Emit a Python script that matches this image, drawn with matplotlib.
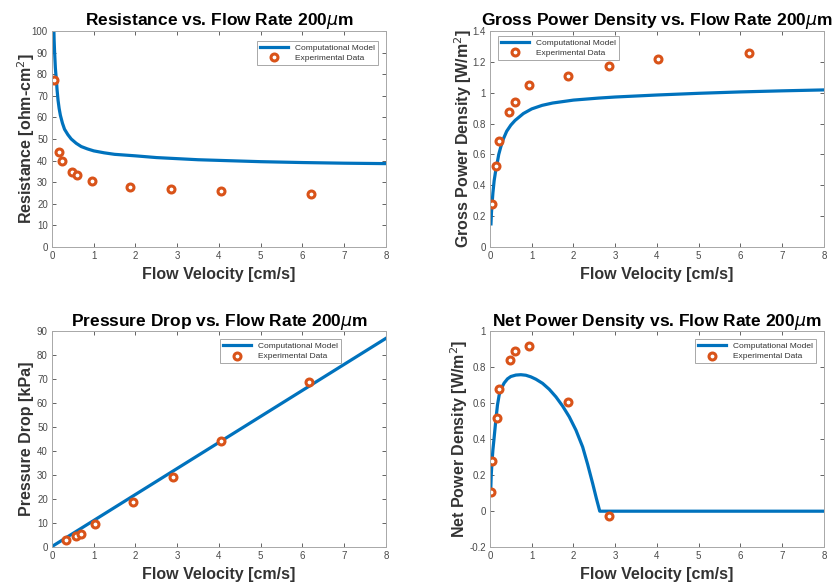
import matplotlib
matplotlib.use('Agg')
import matplotlib.pyplot as plt
from matplotlib.ticker import FormatStrFormatter

plt.rcParams['font.family'] = ['Liberation Sans', 'DejaVu Sans']
plt.rcParams['mathtext.fontset'] = 'dejavusans'

# Resistance vs flow velocity
res_model_x = [0.045, 0.05, 0.06, 0.07, 0.08, 0.09, 0.104, 0.12, 0.144, 0.17, 0.2, 0.25, 0.3, 0.38, 0.46,
               0.58, 0.7, 0.85, 1.0, 1.25, 1.5, 2.0, 2.5, 3.0, 3.5, 4.0, 5.0, 6.0, 7.0, 8.0]
res_model_y = [100, 96, 91, 87, 83, 80.5, 77.5, 73, 68, 64.2, 61, 57.3, 54.5, 52, 50,
               48, 46.5, 45.4, 44.5, 43.6, 42.9, 42.2, 41.4, 40.9, 40.4, 40.1, 39.5, 39.1, 38.8, 38.6]
res_exp_x = [0.056, 0.16, 0.23, 0.48, 0.6, 0.95, 1.87, 2.85, 4.05, 6.2]
res_exp_y = [77.3, 44, 39.9, 34.6, 33.2, 30.4, 27.8, 26.8, 25.8, 24.5]

# Gross power density
gross_model_x = [0.024, 0.035, 0.048, 0.07, 0.1, 0.14, 0.17, 0.21, 0.26, 0.32, 0.4, 0.5, 0.6, 0.8,
                 1.0, 1.25, 1.5, 2.0, 2.6, 3.0, 4.0, 5.0, 6.0, 7.0, 8.0]
gross_model_y = [0.15, 0.22, 0.27, 0.35, 0.43, 0.5, 0.54, 0.6, 0.65, 0.7, 0.75, 0.79, 0.82, 0.865,
                 0.895, 0.918, 0.933, 0.952, 0.965, 0.972, 0.985, 0.996, 1.005, 1.012, 1.018]
gross_exp_x = [0.04, 0.14, 0.21, 0.46, 0.59, 0.94, 1.88, 2.84, 4.03, 6.2]
gross_exp_y = [0.282, 0.523, 0.688, 0.873, 0.942, 1.047, 1.11, 1.17, 1.22, 1.26]

# Pressure drop
dp_model_x = [0.0, 8.0]
dp_model_y = [0.3, 87.0]
dp_exp_x = [0.34, 0.57, 0.69, 1.03, 1.93, 2.9, 4.06, 6.15]
dp_exp_y = [2.8, 4.7, 5.7, 9.6, 18.9, 29.3, 44.3, 69.0]

# Net power density
net_model_x = [0.016, 0.03, 0.048, 0.07, 0.096, 0.144, 0.18, 0.22, 0.28, 0.34, 0.42, 0.5, 0.62, 0.74,
               0.86, 0.98, 1.1, 1.26, 1.42, 1.58, 1.74, 1.9, 2.06, 2.22, 2.34, 2.46, 2.55, 2.63, 8.0]
net_model_y = [0.1, 0.2, 0.27, 0.34, 0.4, 0.515, 0.59, 0.645, 0.685, 0.712, 0.735, 0.748, 0.756, 0.758,
               0.755, 0.746, 0.733, 0.71, 0.677, 0.635, 0.584, 0.524, 0.45, 0.357, 0.26, 0.154, 0.07, 0.0, 0.0]
net_exp_x = [0.016, 0.056, 0.16, 0.22, 0.47, 0.59, 0.94, 1.86, 2.86]
net_exp_y = [0.108, 0.277, 0.517, 0.68, 0.842, 0.888, 0.916, 0.606, -0.028]

blue = '#0072BD'
orange = '#D95319'
grey = '#4a4a4a'

fig = plt.figure(figsize=(8.39, 5.84), dpi=100)
positions = [[0.062, 0.577, 0.398, 0.370],
             [0.584, 0.577, 0.398, 0.370],
             [0.062, 0.063, 0.398, 0.370],
             [0.584, 0.063, 0.398, 0.370]]

panels = [
    (res_model_x, res_model_y, res_exp_x, res_exp_y,
     r'Resistance vs. Flow Rate 200$\mu$m', r'Resistance [ohm-cm$^2$]',
     (0, 100), range(0, 101, 10), 'upper right', (0.976, 0.954), -0.045),
    (gross_model_x, gross_model_y, gross_exp_x, gross_exp_y,
     r'Gross Power Density vs. Flow Rate 200$\mu$m', r'Gross Power Density [W/m$^2$]',
     (0, 1.4), [0, 0.2, 0.4, 0.6, 0.8, 1, 1.2, 1.4], 'upper left', (0.024, 0.977), -0.048),
    (dp_model_x, dp_model_y, dp_exp_x, dp_exp_y,
     r'Pressure Drop vs. Flow Rate 200$\mu$m', 'Pressure Drop [kPa]',
     (0, 90), range(0, 91, 10), 'upper left', (0.503, 0.962), -0.054),
    (net_model_x, net_model_y, net_exp_x, net_exp_y,
     r'Net Power Density vs. Flow Rate 200$\mu$m', r'Net Power Density [W/m$^2$]',
     (-0.2, 1), [-0.2, 0, 0.2, 0.4, 0.6, 0.8, 1], 'upper right', (0.976, 0.962), -0.06),
]

for pos, (mx, my, ex, ey, title, ylabel, ylim, yticks, loc, anchor, ylx) in zip(positions, panels):
    ax = fig.add_axes(pos)
    ax.plot(mx, my, color=blue, linewidth=2.3, label='Computational Model')
    ax.plot(ex, ey, 'o', markersize=5, markerfacecolor='white', markeredgecolor=orange,
            markeredgewidth=2.2, label='Experimental Data')
    ax.set_xlim(0, 8)
    ax.set_ylim(*ylim)
    ax.set_xticks(range(0, 9))
    ax.set_yticks(list(yticks))
    ax.yaxis.set_major_formatter(FormatStrFormatter('%g'))
    ax.tick_params(direction='in', length=3, width=0.6, labelsize=7, colors=grey,
                   top=True, right=True, pad=3)
    for s in ax.spines.values():
        s.set_color('#a8a8a8')
        s.set_linewidth(0.7)
    ax.set_title(title, fontsize=12.5, fontweight='bold', pad=4)
    ax.set_xlabel('Flow Velocity [cm/s]', fontsize=11.5, fontweight='bold', labelpad=4, color='#333333')
    ax.set_ylabel(ylabel, fontsize=11.5, fontweight='bold', color='#333333')
    ax.yaxis.set_label_coords(ylx, 0.5)
    leg = ax.legend(loc=loc, bbox_to_anchor=anchor, borderaxespad=0, fontsize=6, fancybox=False,
                    framealpha=1, handlelength=3.4, borderpad=0.35, labelspacing=0.3)
    leg.get_frame().set_edgecolor('#a8a8a8')
    leg.get_frame().set_linewidth(0.7)
    for t in leg.get_texts():
        t.set_color('#333333')

fig.savefig('out.png', dpi=100)
